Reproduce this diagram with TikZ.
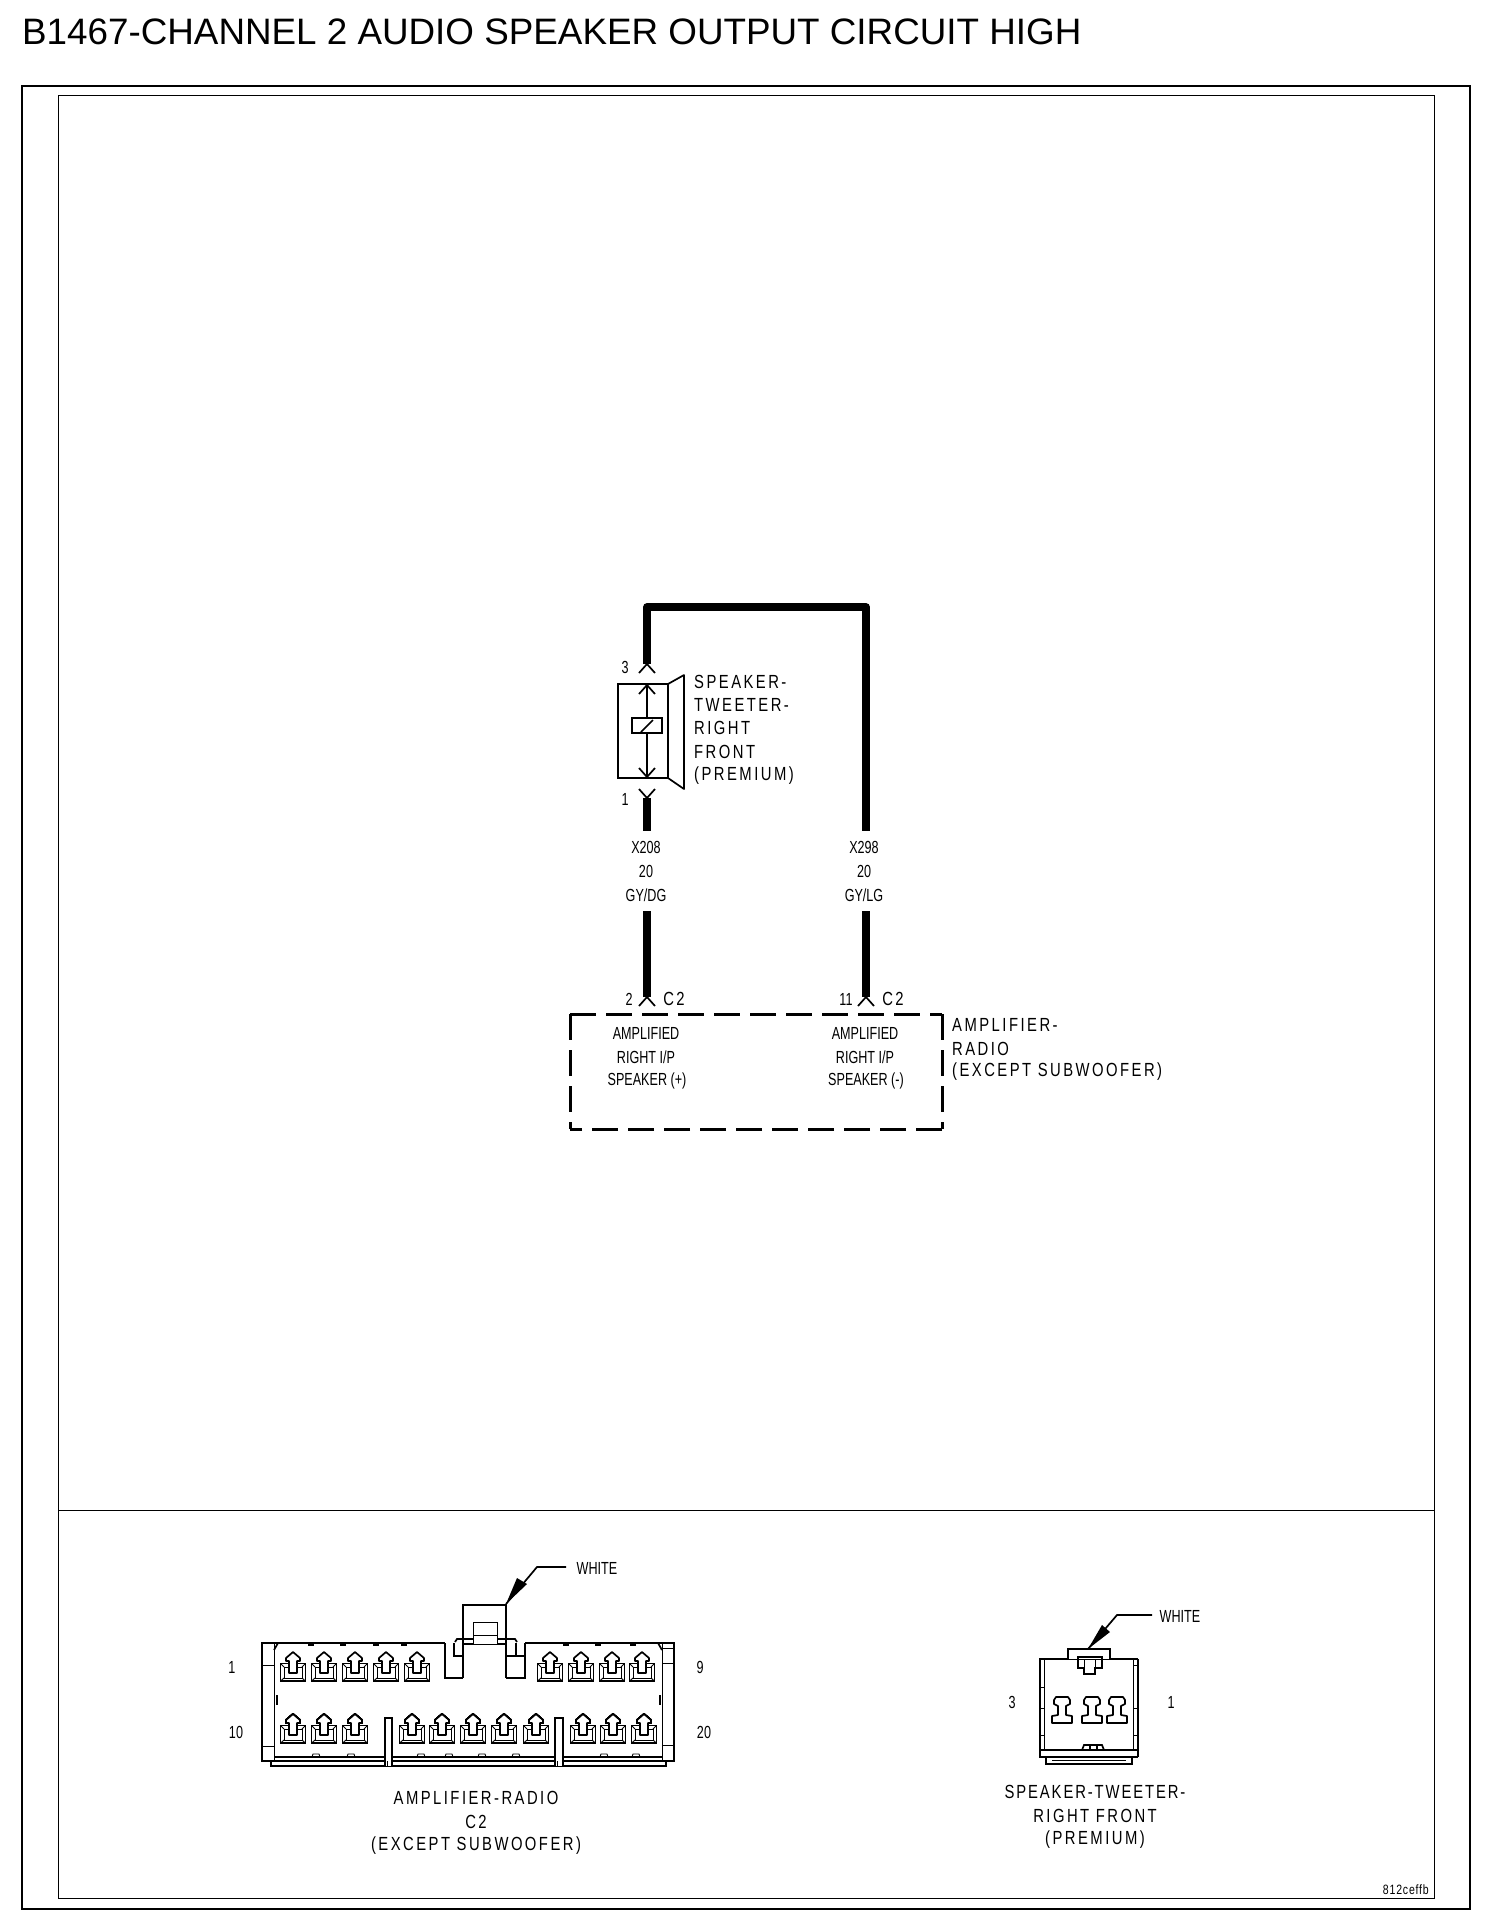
\documentclass[tikz,border=0pt]{standalone}
\usepackage{fontspec}
\setmainfont{Liberation Sans}
\newfontfamily\widefont[LetterSpace=13,FakeStretch=0.78]{Liberation Sans}
\newfontfamily\narrowfont[FakeStretch=0.72]{Liberation Sans}
\tikzset{
  titletext/.style={inner sep=0,anchor=base west,font=\fontsize{36.8}{37}\selectfont},
  widetext/.style={inner sep=0,font=\widefont\fontsize{19}{20}\selectfont},
  widewest/.style={widetext,anchor=west},
  narrowtext/.style={inner sep=0,font=\narrowfont\fontsize{17.5}{20}\selectfont},
  wire/.style={line width=7.5pt,line join=round},
  frameouter/.style={line width=2.8pt},
  frameinner/.style={line width=1pt},
  pinline/.style={line width=1.7pt},
  part/.style={line width=1.7pt},
  fine/.style={line width=0.9pt},
  dashbox/.style={line width=3pt,dash pattern=on 26pt off 10pt}
}
\newcommand{\chevup}[2]{\draw[pinline] (#1-8,#2+9) -- (#1,#2) -- (#1+8,#2+9);}
\newcommand{\chevdn}[2]{\draw[pinline] (#1-8,#2-9) -- (#1,#2) -- (#1+8,#2-9);}
\newcommand{\termbig}[2]{%
  \draw[part,fill=white] (#1-12.5,#2+11.5) rectangle (#1+12.5,#2+29);
  \draw[fine] (#1-9,#2+15) rectangle (#1+9,#2+26);
  \draw[fine] (#1-12.5,#2+11.5) -- (#1-9,#2+15) (#1+12.5,#2+11.5) -- (#1+9,#2+15)
     (#1-12.5,#2+29) -- (#1-9,#2+26) (#1+12.5,#2+29) -- (#1+9,#2+26);
  \draw[part,fill=white,line join=round] (#1,#2) -- (#1-7,#2+6) -- (#1-7,#2+9) -- (#1-4,#2+9) -- (#1-4,#2+21)
     -- (#1+4,#2+21) -- (#1+4,#2+9) -- (#1+7,#2+9) -- (#1+7,#2+6) -- cycle;}
\newcommand{\termsmall}[1]{%
  \draw[part,line join=round] (#1-6,1697) -- (#1+6,1697) -- (#1+8,1700) -- (#1+8,1704) -- (#1+4,1706) -- (#1+4,1715)
    -- (#1+10,1716) -- (#1+10,1723) -- (#1-10,1723) -- (#1-10,1716) -- (#1-4,1715) -- (#1-4,1706)
    -- (#1-8,1704) -- (#1-8,1700) -- cycle;}
\begin{document}
\begin{tikzpicture}[x=1pt,y=-1pt]
\useasboundingbox (0,0) rectangle (1504,1920);
\fill[white] (0,0) rectangle (1504,1920);
% title and frames
\node[titletext] (title) at (22,44) {B1467-CHANNEL 2 AUDIO SPEAKER OUTPUT CIRCUIT HIGH};
\draw[frameouter] (22,86) rectangle (1470,1909);
\draw[frameinner] (58.5,95) rectangle (1434,1898);
\draw[frameinner] (58.5,1510) -- (1434,1510);
\node[inner sep=0,anchor=east,font=\widefont\addfontfeature{LetterSpace=6}\fontsize{13.5}{14}\selectfont] (code) at (1429,1890) {812ceffb};
% wire coordinates
\coordinate (pinthree) at (647,664);
\coordinate (pinone) at (647,798);
\coordinate (topleft) at (647,607);
\coordinate (topright) at (866,607);
\coordinate (xleftup) at (647,831);
\coordinate (xrightup) at (866,831);
\coordinate (xleftdn) at (647,911);
\coordinate (xrightdn) at (866,911);
\coordinate (ctwoleft) at (647,997);
\coordinate (ctworight) at (866,997);
% wires
\draw[wire] (pinthree) -- (topleft) -- (topright) -- (xrightup);
\draw[wire] (pinone) -- (xleftup);
\draw[wire] (xleftdn) -- (ctwoleft);
\draw[wire] (xrightdn) -- (ctworight);
% pin marks
\chevup{647}{664}
\chevdn{647}{798}
\chevup{647}{997}
\chevup{866}{997}
\node[narrowtext] (pthree) at (625,667) {3};
\node[narrowtext] (pone) at (625,799) {1};
% speaker
\draw[part] (618,684) rectangle (668,778);
\draw[part,line join=round] (668,684) -- (684,675) -- (684,789) -- (668,778);
\draw[part] (647,684) -- (647,718) (647,733) -- (647,778);
\chevup{647}{685}
\chevdn{647}{777}
\draw[part] (632,718) rectangle (662,733);
\draw[part] (641,732) -- (653,720);
\node[widewest] (spka) at (694,682) {SPEAKER-};
\node[widewest] (spkb) at (694,705) {TWEETER-};
\node[widewest] (spkc) at (694,728) {RIGHT};
\node[widewest] (spkd) at (694,752) {FRONT};
\node[widewest] (spke) at (694,776) {(PREMIUM)};
% wire labels
\node[narrowtext] (xl) at (646,847) {X208};
\node[narrowtext] (gl) at (646,871) {20};
\node[narrowtext] (cl) at (646,895) {GY/DG};
\node[narrowtext] (xr) at (864,847) {X298};
\node[narrowtext] (gr) at (864,871) {20};
\node[narrowtext] (cr) at (864,895) {GY/LG};
\node[narrowtext] (ptwo) at (629,999) {2};
\node[widetext] (ctwoa) at (674,999) {C2};
\node[narrowtext] (pele) at (846,999) {11};
\node[widetext] (ctwob) at (893,999) {C2};
% amplifier box
\draw[dashbox] (570,1014) -- (942,1014);
\draw[dashbox] (570,1014) -- (570,1129);
\draw[dashbox] (942,1014) -- (942,1129);
\draw[dashbox] (942,1129) -- (570,1129);
\node[narrowtext] (aa) at (646,1033) {AMPLIFIED};
\node[narrowtext] (ab) at (646,1057) {RIGHT I/P};
\node[narrowtext] (ac) at (647,1081) {SPEAKER (+)};
\node[narrowtext] (ba) at (865,1033) {AMPLIFIED};
\node[narrowtext] (bb) at (865,1057) {RIGHT I/P};
\node[narrowtext] (bc) at (866,1081) {SPEAKER (-)};
\node[widewest] (ampa) at (952,1025) {AMPLIFIER-};
\node[widewest] (ampb) at (952,1049) {RADIO};
\node[widewest] (ampc) at (952,1072) {(EXCEPT SUBWOOFER)};
% big connector
\draw[part,line width=2.2pt] (262,1643) rectangle (674,1761);
\draw[part] (271,1761) -- (271,1766) -- (666,1766) -- (666,1761);
\draw[fine] (274,1643) -- (274,1761) (662,1643) -- (662,1761);
\draw[fine] (262,1665) -- (274,1665) (262,1746) -- (274,1746);
\draw[fine] (662,1648) -- (674,1648) (662,1663) -- (674,1663) (662,1745) -- (674,1745);
\draw[part] (274,1650) -- (278,1643) (662,1650) -- (658,1643);
\draw[part] (277,1695) -- (277,1705);
\draw[part] (660,1695) -- (660,1705);
\draw[part,line width=1.4pt] (275,1757) -- (662,1757);
\foreach \a in {308,340,373,401,563,595,630}
  \fill (\a,1643) rectangle (\a+6,1646);
\foreach \a in {312,347,417,445,478,512,600,632}
  \draw[fine] (\a,1757) -- (\a+1,1754) -- (\a+7,1754) -- (\a+8,1757);
% middle key
\fill[white] (445,1640) rectangle (525,1680);
\draw[part,line width=2.2pt] (463,1678) -- (463,1605) -- (506,1605) -- (506,1678);
\draw[part,line width=2pt] (445,1643) -- (445,1678) -- (463,1678) (506,1678) -- (525,1678) -- (525,1643);
\draw[part] (454,1643) -- (454,1656) -- (463,1656) (506,1656) -- (525,1656)
   (516,1643) -- (516,1656);
\draw[part] (455,1642) -- (457,1639) -- (515,1639) -- (517,1642);
\draw[part] (463,1644) -- (506,1644);
\draw[fine,fill=white] (473,1622) rectangle (497,1644);
\draw[fine] (473,1635) -- (497,1635);
% key posts
\foreach \a/\b in {385/392,555/563}{
  \draw[part,fill=white] (\a,1766) -- (\a,1718) -- (\b,1718) -- (\b,1766);
  \draw[fine] (\a+2,1761) -- (\a+2,1766);
}
% terminals
\foreach \a in {293,324,355,386,417,550,581,612,642} \termbig{\a}{1652}
\foreach \a in {293,324,355,412,442,473,504,536,583,613,644} \termbig{\a}{1714}
% white arrow of big connector
\coordinate (wltip) at (506,1604);
\coordinate (wlknee) at (537,1567);
\coordinate (wlend) at (566,1567);
\draw[part] (wlend) -- (wlknee) -- (wltip);
\fill (wltip) -- (517,1578) -- (527,1584) -- cycle;
\node[narrowtext] (whitea) at (597,1568) {WHITE};
\node[narrowtext] (na) at (232,1667) {1};
\node[narrowtext] (nb) at (700,1667) {9};
\node[narrowtext] (nc) at (236,1732) {10};
\node[narrowtext] (nd) at (704,1732) {20};
\node[widetext] (capa) at (476,1798) {AMPLIFIER-RADIO};
\node[widetext] (capb) at (476,1822) {C2};
\node[widetext] (capc) at (476,1846) {(EXCEPT SUBWOOFER)};
% small connector
\draw[part] (1040,1659) -- (1138,1659);
\draw[line width=2.4pt] (1040,1658) -- (1040,1757) -- (1138,1757);
\draw[part] (1138,1659) -- (1138,1757);
\draw[part] (1040,1750) -- (1138,1750);
\draw[part] (1046,1757) -- (1046,1764) -- (1132,1764) -- (1132,1757);
\draw[fine] (1052,1760) -- (1126,1760);
\draw[fine] (1044,1659) -- (1044,1750) (1133,1659) -- (1133,1750);
\draw[fine] (1040,1687) -- (1044,1687) (1040,1708) -- (1044,1708) (1040,1735) -- (1044,1735)
  (1133,1665) -- (1138,1665) (1133,1708) -- (1138,1708) (1133,1735) -- (1138,1735);
\draw[part,fill=white] (1068,1659) -- (1068,1649) -- (1110,1649) -- (1110,1659);
\draw[part] (1078,1668) -- (1078,1657) -- (1102,1657) -- (1102,1668) -- (1095,1668) -- (1095,1674) -- (1084,1674) -- (1084,1668) -- cycle;
\draw[fine] (1084,1660) -- (1084,1668) (1095,1660) -- (1095,1668);
\draw[part] (1082,1750) -- (1084,1745) -- (1102,1745) -- (1104,1750) (1090,1745) -- (1090,1750) (1097,1745) -- (1097,1750);
\foreach \a in {1062,1092,1117} \termsmall{\a}
\coordinate (wstip) at (1088,1649);
\coordinate (wsknee) at (1117,1615);
\coordinate (wsend) at (1152,1615);
\draw[part] (wsend) -- (wsknee) -- (wstip);
\fill (wstip) -- (1102,1625) -- (1110,1632) -- cycle;
\node[narrowtext] (whiteb) at (1180,1616) {WHITE};
\node[narrowtext] (ne) at (1012,1702) {3};
\node[narrowtext] (nf) at (1171,1702) {1};
\node[widetext,font=\widefont\addfontfeature{LetterSpace=10}\fontsize{19}{20}\selectfont] (capd) at (1095,1792) {SPEAKER-TWEETER-};
\node[widetext] (cape) at (1095,1816) {RIGHT FRONT};
\node[widetext] (capf) at (1095,1840) {(PREMIUM)};
\end{tikzpicture}
\end{document}
